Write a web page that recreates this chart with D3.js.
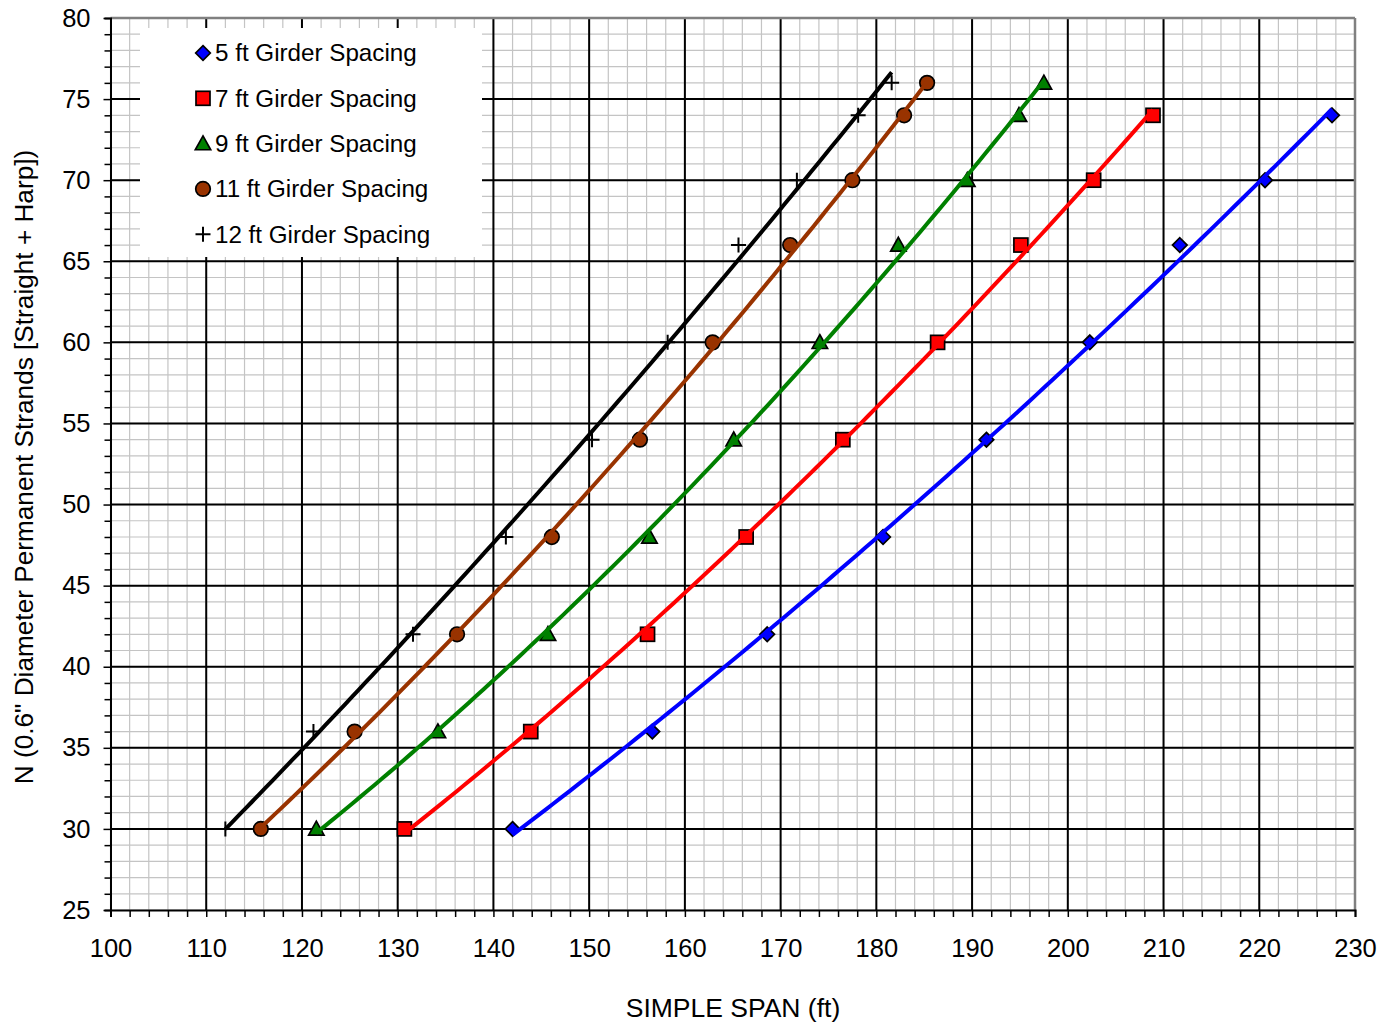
<!DOCTYPE html>
<html>
<head>
<meta charset="utf-8">
<script src="https://cdn.jsdelivr.net/npm/d3@7"></script>
<style>
  html, body { margin: 0; padding: 0; background: #fff; }
  svg { display: block; font-family: "Liberation Sans", Arial, sans-serif; }
</style>
</head>
<body>
<svg id="chart" width="1394" height="1022"></svg>
<script>
// ---- data ----
const seriesNames = ["5 ft Girder Spacing", "7 ft Girder Spacing", "9 ft Girder Spacing", "11 ft Girder Spacing", "12 ft Girder Spacing"];
const strands5  = [30, 36, 42, 48, 54, 60, 66, 70, 74];
const span5     = [142.0, 156.6, 168.6, 180.7, 191.5, 202.3, 211.7, 220.6, 227.6];
const strands7  = [30, 36, 42, 48, 54, 60, 66, 70, 74];
const span7     = [130.7, 143.9, 156.1, 166.4, 176.5, 186.4, 195.1, 202.7, 208.9];
const strands9  = [30, 36, 42, 48, 54, 60, 66, 70, 74, 76];
const span9     = [121.5, 134.2, 145.7, 156.3, 165.1, 174.1, 182.3, 189.5, 194.9, 197.5];
const strands11 = [30, 36, 42, 48, 54, 60, 66, 70, 74, 76];
const span11    = [115.7, 125.5, 136.2, 146.1, 155.3, 162.9, 171.0, 177.5, 182.9, 185.3];
const strands12 = [30, 36, 42, 48, 54, 60, 66, 70, 74, 76];
const span12    = [112.0, 121.2, 131.6, 141.3, 150.3, 158.2, 165.6, 171.7, 178.1, 181.6];
const seriesColors = ["#0000ff", "#ff0000", "#008000", "#993300", "#000000"];
const seriesMarkers = ["diamond", "square", "triangle", "circle", "plus"];
const trendOrder = 2; // polynomial trendline order (as in the source spreadsheet)
const xTicks = [100, 110, 120, 130, 140, 150, 160, 170, 180, 190, 200, 210, 220, 230];
const yTicks = [25, 30, 35, 40, 45, 50, 55, 60, 65, 70, 75, 80];
const xTitle = "SIMPLE SPAN (ft)";
const yTitle = "N (0.6\" Diameter Permanent Strands [Straight + Harp])";

const allSpans = [span5, span7, span9, span11, span12];
const allStrands = [strands5, strands7, strands9, strands11, strands12];
const series = seriesNames.map((name, i) => ({
  name, color: seriesColors[i], marker: seriesMarkers[i],
  points: allSpans[i].map((x, j) => ({ x, y: allStrands[i][j] }))
}));

// ---- layout ----
const svg = d3.select("#chart");
const L = 110.5, T = 18, R = 1355, B = 910;
const x = d3.scaleLinear().domain([100, 230]).range([L, R]);
const y = d3.scaleLinear().domain([25, 80]).range([B, T]);

const g = svg.append("g");

// minor grid
const xMinor = d3.range(100, 231, 2);
const yMinor = d3.range(25, 81, 1);
g.append("g").selectAll("line").data(xMinor).join("line")
  .attr("x1", d => x(d)).attr("x2", d => x(d)).attr("y1", T).attr("y2", B)
  .attr("stroke", "#c4c4c4").attr("stroke-width", 1.2);
g.append("g").selectAll("line").data(yMinor).join("line")
  .attr("y1", d => y(d)).attr("y2", d => y(d)).attr("x1", L).attr("x2", R)
  .attr("stroke", "#c4c4c4").attr("stroke-width", 1.2);
// major grid
g.append("g").selectAll("line").data(xTicks.slice(1, -1)).join("line")
  .attr("x1", d => x(d)).attr("x2", d => x(d)).attr("y1", T).attr("y2", B)
  .attr("stroke", "#000").attr("stroke-width", 2);
g.append("g").selectAll("line").data(yTicks.slice(1, -1)).join("line")
  .attr("y1", d => y(d)).attr("y2", d => y(d)).attr("x1", L).attr("x2", R)
  .attr("stroke", "#000").attr("stroke-width", 2);

// frame top/right (gray)
g.append("line").attr("x1", L).attr("x2", R).attr("y1", T).attr("y2", T).attr("stroke", "#808080").attr("stroke-width", 2.5);
g.append("line").attr("x1", R).attr("x2", R).attr("y1", T).attr("y2", B).attr("stroke", "#808080").attr("stroke-width", 2.5);

// axes
const xAxis = d3.axisBottom(x).tickValues(xMinor).tickSize(7)
  .tickFormat(d => xTicks.includes(d) ? d : "");
const gx = svg.append("g").attr("transform", `translate(0,${B})`).call(xAxis);
gx.select(".domain").attr("stroke", "#000").attr("stroke-width", 2);
gx.selectAll(".tick line").attr("stroke", "#000").attr("stroke-width", 1.5);
gx.selectAll(".tick text").attr("font-size", 25.5).attr("fill", "#000").attr("y", 47).attr("dy", 0)
  .attr("font-family", "Liberation Sans, Arial, sans-serif");

const yAxis = d3.axisLeft(y).tickValues(yMinor).tickSize(6)
  .tickFormat(d => yTicks.includes(d) ? d : "");
const gy = svg.append("g").attr("transform", `translate(${L},0)`).call(yAxis);
gy.select(".domain").attr("stroke", "#000").attr("stroke-width", 2);
gy.selectAll(".tick line").attr("stroke", "#000").attr("stroke-width", 1.5)
  .attr("x2", d => yTicks.includes(d) ? -7 : -6);
gy.selectAll(".tick text").attr("font-size", 25.5).attr("fill", "#000").attr("x", -20)
  .attr("font-family", "Liberation Sans, Arial, sans-serif");

// titles
svg.append("text").attr("x", 733).attr("y", 1017).attr("text-anchor", "middle")
  .attr("font-size", 26.5).text(xTitle);
svg.append("text").attr("transform", `translate(33,467) rotate(-90)`)
  .attr("text-anchor", "middle").attr("font-size", 26.2).text(yTitle);

// ---- markers ----
function drawMarker(sel, type, color, s) {
  if (type === "diamond") {
    sel.append("path").attr("d", `M0,${-s}L${s},0L0,${s}L${-s},0Z`)
      .attr("fill", color).attr("stroke", "#000").attr("stroke-width", 1.7);
  } else if (type === "square") {
    sel.append("rect").attr("x", -s).attr("y", -s).attr("width", 2 * s).attr("height", 2 * s)
      .attr("fill", color).attr("stroke", "#000").attr("stroke-width", 1.7);
  } else if (type === "triangle") {
    const h = s * 1.1;
    sel.append("path").attr("d", `M0,${-h}L${h},${h * 0.8}L${-h},${h * 0.8}Z`)
      .attr("fill", color).attr("stroke", "#000").attr("stroke-width", 1.7);
  } else if (type === "circle") {
    sel.append("circle").attr("r", s).attr("fill", color).attr("stroke", "#000").attr("stroke-width", 1.7);
  } else if (type === "plus") {
    sel.append("path").attr("d", `M${-s},0H${s}M0,${-s}V${s}`)
      .attr("stroke", "#000").attr("stroke-width", 2).attr("fill", "none");
  }
}
const markerSize = { diamond: 7.3, square: 7, triangle: 7, circle: 7.3, plus: 7.5 };

const gm = svg.append("g");
series.forEach(s => {
  s.points.forEach(p => {
    const m = gm.append("g").attr("transform", `translate(${x(p.x)},${y(p.y)})`);
    drawMarker(m, s.marker, s.color, markerSize[s.marker]);
  });
});

// ---- polynomial trendlines (least squares, y on x) ----
function polyFit(pts, order) {
  const n = order + 1;
  const A = Array.from({ length: n }, () => new Array(n + 1).fill(0));
  pts.forEach(p => {
    for (let i = 0; i < n; i++) {
      for (let j = 0; j < n; j++) A[i][j] += Math.pow(p.x, i + j);
      A[i][n] += p.y * Math.pow(p.x, i);
    }
  });
  for (let c = 0; c < n; c++) {
    let piv = c;
    for (let r = c + 1; r < n; r++) if (Math.abs(A[r][c]) > Math.abs(A[piv][c])) piv = r;
    [A[c], A[piv]] = [A[piv], A[c]];
    for (let r = 0; r < n; r++) {
      if (r === c) continue;
      const f = A[r][c] / A[c][c];
      for (let k = c; k <= n; k++) A[r][k] -= f * A[c][k];
    }
  }
  return A.map((row, i) => row[n] / row[i]);
}
const gl = svg.append("g");
const lineGen = d3.line().x(d => x(d.x)).y(d => y(d.y));
series.forEach(s => {
  const coef = polyFit(s.points, trendOrder);
  const [x0, x1] = d3.extent(s.points, p => p.x);
  const xs = d3.range(0, 101).map(i => x0 + (x1 - x0) * i / 100);
  const pts = xs.map(xx => ({ x: xx, y: coef.reduce((acc, c, k) => acc + c * Math.pow(xx, k), 0) }));
  gl.append("path").attr("d", lineGen(pts)).attr("fill", "none")
    .attr("stroke", s.color).attr("stroke-width", 4);
});

// ---- legend ----
const lg = svg.append("g");
lg.append("rect").attr("x", 140).attr("y", 28).attr("width", 342).attr("height", 229).attr("fill", "#fff");
series.forEach((s, i) => {
  const cy = 53 + i * 45.3;
  const m = lg.append("g").attr("transform", `translate(203,${cy})`);
  drawMarker(m, s.marker, s.color, markerSize[s.marker]);
  lg.append("text").attr("x", 215).attr("y", cy).attr("dy", "0.35em")
    .attr("font-size", 24.2).text(s.name);
});
</script>
</body>
</html>
